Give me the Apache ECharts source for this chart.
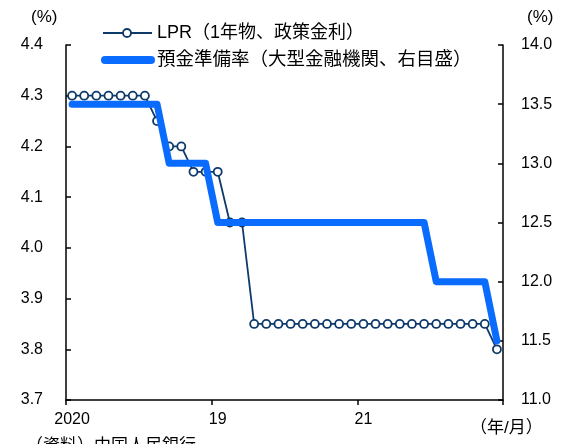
<!DOCTYPE html>
<html>
<head>
<meta charset="utf-8">
<script src="https://cdn.jsdelivr.net/npm/echarts@6/dist/echarts.min.js"></script>
<style>
html,body{margin:0;padding:0;background:#fff;}
#c{width:574px;height:444px;}
</style>
</head>
<body>
<div id="c"></div>
<script>
// Months Jan 2019 .. Dec 2021
var categories = [
  '2019/1','2019/2','2019/3','2019/4','2019/5','2019/6','2019/7','2019/8','2019/9','2019/10','2019/11','2019/12',
  '2020/1','2020/2','2020/3','2020/4','2020/5','2020/6','2020/7','2020/8','2020/9','2020/10','2020/11','2020/12',
  '2021/1','2021/2','2021/3','2021/4','2021/5','2021/6','2021/7','2021/8','2021/9','2021/10','2021/11','2021/12'
];
var lprValues = [
  4.30,4.30,4.30,4.30,4.30,4.30,4.30,4.25,4.20,4.20,4.15,4.15,
  4.15,4.05,4.05,3.85,3.85,3.85,3.85,3.85,3.85,3.85,3.85,3.85,
  3.85,3.85,3.85,3.85,3.85,3.85,3.85,3.85,3.85,3.85,3.85,3.80
];
var rrrValues = [
  13.5,13.5,13.5,13.5,13.5,13.5,13.5,13.5,13.0,13.0,13.0,13.0,
  12.5,12.5,12.5,12.5,12.5,12.5,12.5,12.5,12.5,12.5,12.5,12.5,
  12.5,12.5,12.5,12.5,12.5,12.5,12.0,12.0,12.0,12.0,12.0,11.5
];
var xTickLabels = {0:'2020', 12:'19', 24:'21'};
var seriesNames = ['LPR（1年物、政策金利）', '預金準備率（大型金融機関、右目盛）'];

var FONT = '"Liberation Sans", "Noto Sans CJK JP", sans-serif';
var NAVY = '#0e3a6b', BLUE = '#0a6cff';
var chart = echarts.init(document.getElementById('c'), null, {renderer:'canvas'});
chart.setOption({
  animation:false,
  textStyle:{fontFamily:FONT},
  grid:{left:66, right:71, top:45, bottom:44, containLabel:false},
  xAxis:{
    type:'category', data:categories, boundaryGap:true,
    axisLine:{lineStyle:{color:'#000', width:1.5}},
    axisTick:{show:true, inside:false, length:5, lineStyle:{color:'#000', width:1.5},
      interval:function(i){return i % 12 === 0;}},
    axisLabel:{interval:function(i){return i % 12 === 0;}, formatter:function(v,i){return xTickLabels[i] || '';},
      fontFamily:FONT, fontSize:16, color:'#000', margin:12}
  },
  yAxis:[
    {type:'value', min:3.7, max:4.4, interval:0.1, position:'left',
     axisLine:{show:true, lineStyle:{color:'#000', width:1.5}},
     axisTick:{show:true, inside:true, length:5, lineStyle:{color:'#000', width:1.5}},
     splitLine:{show:false},
     axisLabel:{formatter:function(v){return v.toFixed(1);}, fontFamily:FONT, fontSize:16, color:'#000', margin:23}
    },
    {type:'value', min:11, max:14, interval:0.5, position:'right',
     axisLine:{show:true, lineStyle:{color:'#000', width:1.5}},
     axisTick:{show:true, inside:true, length:5, lineStyle:{color:'#000', width:1.5}},
     splitLine:{show:false},
     axisLabel:{formatter:function(v){return v.toFixed(1);}, fontFamily:FONT, fontSize:16, color:'#000', margin:18}
    }
  ],
  series:[
    {name:seriesNames[0], type:'line', yAxisIndex:0, data:lprValues,
     symbol:'circle', symbolSize:8, showAllSymbol:true,
     lineStyle:{color:NAVY, width:1.8},
     itemStyle:{color:'#ffffff', borderColor:NAVY, borderWidth:1.8},
     z:2},
    {name:seriesNames[1], type:'line', yAxisIndex:1, data:rrrValues,
     symbol:'none', showSymbol:false,
     lineStyle:{color:BLUE, width:7, cap:'round', join:'round'},
     itemStyle:{color:BLUE},
     z:3}
  ],
  graphic:[
    // legend
    {type:'line', shape:{x1:103, y1:33, x2:152, y2:33}, style:{stroke:NAVY, lineWidth:1.8}},
    {type:'circle', shape:{cx:127, cy:33, r:4}, style:{fill:'#fff', stroke:NAVY, lineWidth:1.8}},
    {type:'text', x:157, y:33, style:{text:seriesNames[0], font:'18px '+FONT, fill:'#000', verticalAlign:'middle'}},
    {type:'line', shape:{x1:105, y1:60, x2:151, y2:60}, style:{stroke:BLUE, lineWidth:8, lineCap:'round'}},
    {type:'text', x:157, y:60, style:{text:seriesNames[1], font:'18.5px '+FONT, fill:'#000', verticalAlign:'middle'}},
    // units and notes
    {type:'text', x:31, y:17, style:{text:'(%)', font:'17px '+FONT, fill:'#000', verticalAlign:'middle'}},
    {type:'text', x:527, y:17, style:{text:'(%)', font:'17px '+FONT, fill:'#000', verticalAlign:'middle'}},
    {type:'text', x:470, y:428, style:{text:'（年/月）', font:'17px '+FONT, fill:'#000', verticalAlign:'middle'}},
    {type:'text', x:26, y:446, style:{text:'（資料）中国人民銀行', font:'17px '+FONT, fill:'#000', verticalAlign:'middle'}}
  ]
});
</script>
</body>
</html>
